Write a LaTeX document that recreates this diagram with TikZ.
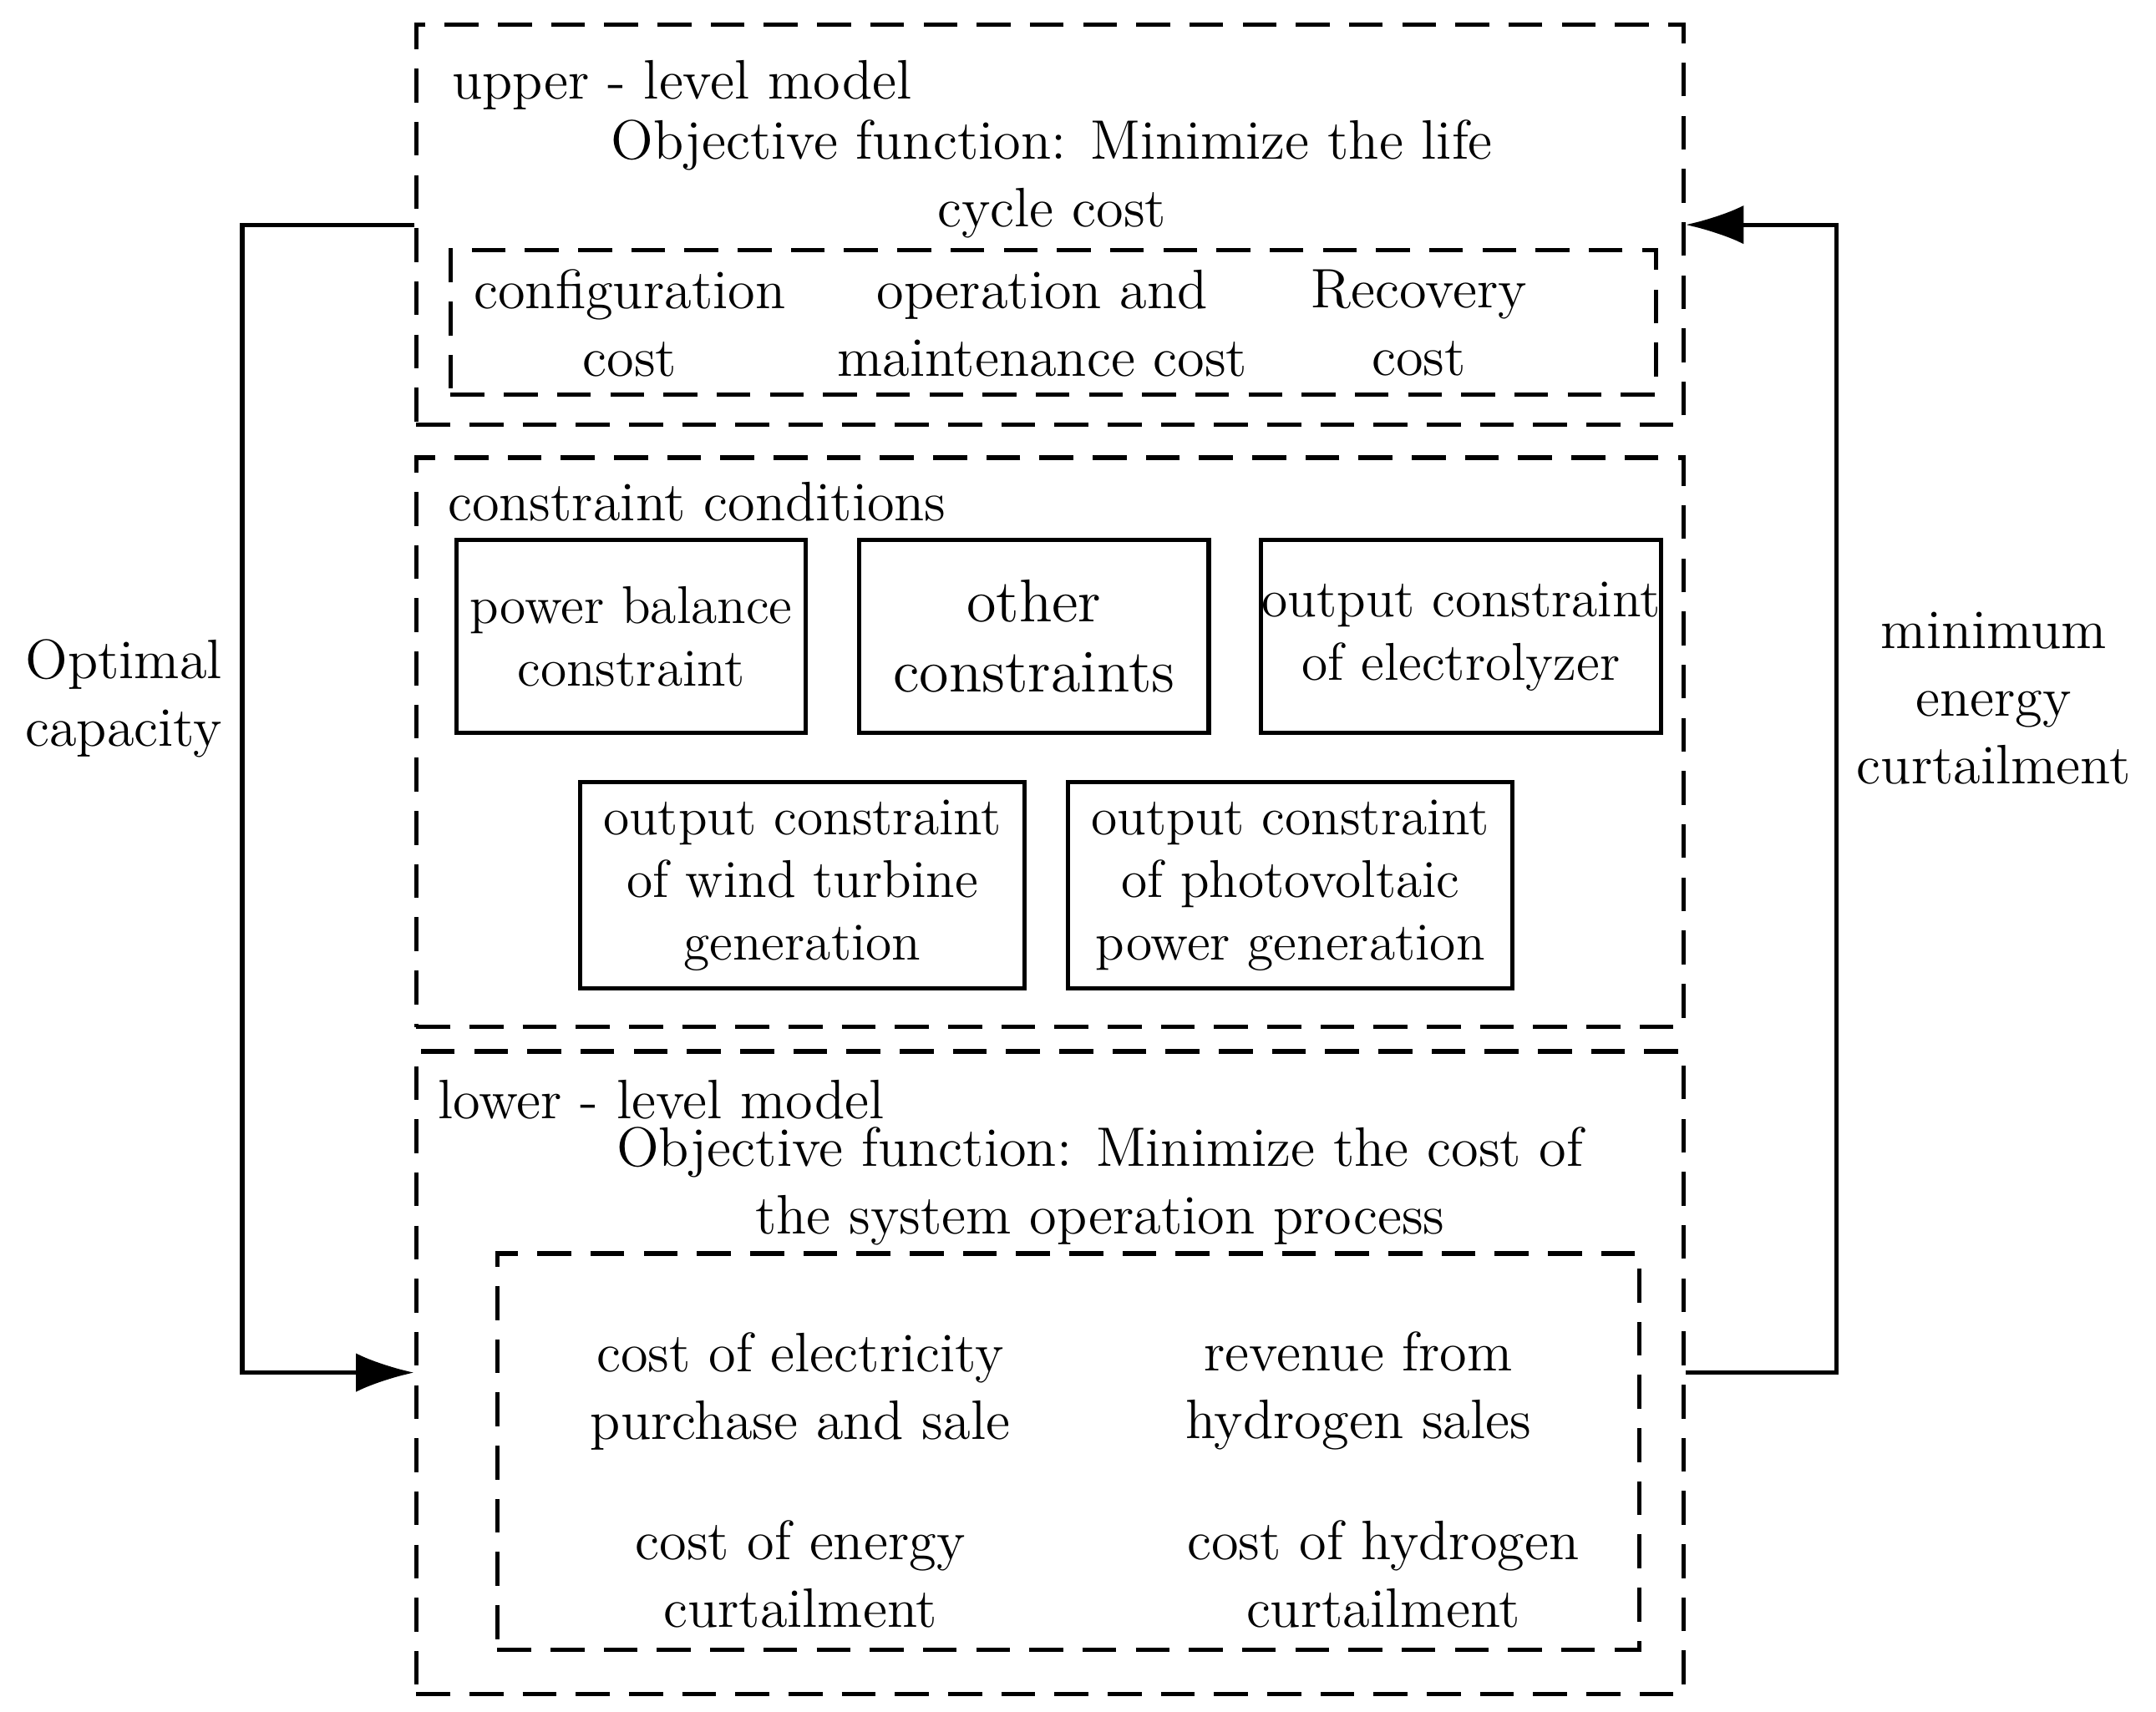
\documentclass[tikz,border=0pt]{standalone}
\usetikzlibrary{arrows.meta}
\tikzset{
  dbox/.style={draw, line width=0.9pt, dash pattern=on 7pt off 4pt, inner sep=0pt},
  sbox/.style={draw, line width=0.9pt, inner sep=0pt, align=center, font=\fontsize{11}{13}\selectfont},
  txt/.style={align=center, inner sep=0pt},
  flow/.style={line width=0.9pt, -{Latex[length=12pt,width=8pt]}}
}
\begin{document}
\begin{tikzpicture}[x=0.01cm,y=-0.01cm,font=\fontsize{11.5}{14}\selectfont]
\useasboundingbox (0,0) rectangle (1568,1245);
% frames
\node[dbox, minimum width=9.21cm, minimum height=2.91cm] (upper) at (763.5,163.5) {};
\node[dbox, minimum width=8.76cm, minimum height=1.05cm] (costs) at (766,234.5) {};
\node[dbox, minimum width=9.21cm, minimum height=4.14cm] (cons) at (763.5,540) {};
\node[dbox, minimum width=9.21cm, minimum height=4.67cm] (lower) at (763.5,998.5) {};
\node[dbox, minimum width=8.30cm, minimum height=2.88cm] (lcosts) at (777,1056) {};
% constraint boxes
\node[sbox, minimum width=2.54cm, minimum height=1.40cm] (balance) at (459,463) {power balance\\constraint};
\node[sbox, minimum width=2.54cm, minimum height=1.40cm, font=\fontsize{12.5}{14.5}\selectfont] (other) at (752,463) {other\\constraints};
\node[sbox, minimum width=2.91cm, minimum height=1.40cm] (elec) at (1062.5,463) {output constraint\\of electrolyzer};
\node[sbox, minimum width=3.23cm, minimum height=1.50cm] (wind) at (583.5,644) {output constraint\\of wind turbine\\generation};
\node[sbox, minimum width=3.23cm, minimum height=1.50cm] (pv) at (938.5,644) {output constraint\\of photovoltaic\\power generation};
% texts
\node[txt, anchor=west] (ulabel) at (328,62) {upper - level model};
\node[txt] (uobj) at (765,130) {Objective function: Minimize the life\\cycle cost};
\node[txt] (conf) at (458,235) {configuration\\cost};
\node[txt] (om) at (758,235) {operation and\\maintenance cost};
\node[txt] (rec) at (1032,235) {Recovery\\cost};
\node[txt, anchor=west] (clabel) at (325,365) {constraint conditions};
\node[txt, anchor=west] (llabel) at (318,800) {lower - level model};
\node[txt] (lobj) at (800,863) {Objective function: Minimize the cost of\\the system operation process};
\node[txt] (elp) at (582,1012) {cost of electricity\\purchase and sale};
\node[txt] (hrev) at (988,1012) {revenue from\\hydrogen sales};
\node[txt] (ecur) at (582,1145) {cost of energy\\curtailment};
\node[txt] (hcur) at (1006,1145) {cost of hydrogen\\curtailment};
\node[txt] (optcap) at (90,508) {Optimal\\capacity};
\node[txt] (mincur) at (1450,508) {minimum\\energy\\curtailment};
% feedback loops
\draw[flow] (upper.west) -- ++(-125,0) |- (lower.west);
\draw[flow] (lower.east) -- ++(110,0) |- (upper.east);
\end{tikzpicture}
\end{document}
